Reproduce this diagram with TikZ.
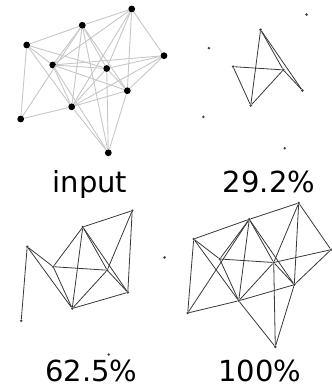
\documentclass[tikz,border=0pt]{standalone}
\usepackage{fontspec}
\setmainfont{DejaVu Sans}
\tikzset{
  inode/.style={circle,fill=black,inner sep=0pt,minimum size=6.8pt},
  iedge/.style={draw=black!22,line width=0.9pt},
  pnode/.style={circle,fill=black!75,inner sep=0pt,minimum size=2.8pt},
  pedge/.style={draw=black!78,line width=0.8pt},
  lbl/.style={anchor=base,inner sep=0pt,font=\fontsize{29}{34}\selectfont}
}
\newcommand\gnodes[2]{%
  \node[#2] (#1A) at (131.7,9) {};
  \node[#2] (#1B) at (82.3,25.3) {};
  \node[#2] (#1C) at (26.7,45) {};
  \node[#2] (#1D) at (164,55.7) {};
  \node[#2] (#1E) at (52.7,65) {};
  \node[#2] (#1F) at (106.7,68.5) {};
  \node[#2] (#1G) at (127.3,90.7) {};
  \node[#2] (#1H) at (71.7,106.8) {};
  \node[#2] (#1I) at (20.7,119) {};
  \node[#2] (#1J) at (108.3,152.8) {};
}
\def\edgesA{B/H,B/F,B/G,E/F,E/H,F/H,F/G}
\def\edgesB{C/I,C/E,C/H,E/B,B/A,A/F,A/G,H/G}
\def\edgesC{C/B,A/D,D/G,D/F,I/H,H/J,F/J,G/J,I/B}
\def\edgesX{A/E,A/H,C/F,D/E,D/H,E/G,E/J,B/J}
\begin{document}
\begin{tikzpicture}[x=1pt,y=-1pt]
\useasboundingbox (0,0) rectangle (331,387);
% input
\gnodes{i}{inode}
\foreach \u/\v in \edgesA {\draw[iedge] (i\u) -- (i\v);}
\foreach \u/\v in \edgesB {\draw[iedge] (i\u) -- (i\v);}
\foreach \u/\v in \edgesC {\draw[iedge] (i\u) -- (i\v);}
\foreach \u/\v in \edgesX {\draw[iedge] (i\u) -- (i\v);}
\node[lbl] (tin) at (90,192) {input};
% 29.2%
\begin{scope}[shift={(184.05,6.2)},scale=0.93]
\gnodes{p}{pnode}
\end{scope}
\foreach \u/\v in \edgesA {\draw[pedge] (p\u) -- (p\v);}
\node[lbl] (tp) at (269,192.5) {29.2\%};
% 62.5%
\begin{scope}[shift={(0.5,201.7)}]
\gnodes{q}{pnode}
\end{scope}
\foreach \u/\v in \edgesA {\draw[pedge] (q\u) -- (q\v);}
\foreach \u/\v in \edgesB {\draw[pedge] (q\u) -- (q\v);}
\node[lbl] (tq) at (91.5,381.5) {62.5\%};
% 100%
\begin{scope}[shift={(167,194)}]
\gnodes{r}{pnode}
\end{scope}
\foreach \u/\v in \edgesA {\draw[pedge] (r\u) -- (r\v);}
\foreach \u/\v in \edgesB {\draw[pedge] (r\u) -- (r\v);}
\foreach \u/\v in \edgesC {\draw[pedge] (r\u) -- (r\v);}
\node[lbl] (tr) at (260,381.5) {100\%};
\end{tikzpicture}
\end{document}
